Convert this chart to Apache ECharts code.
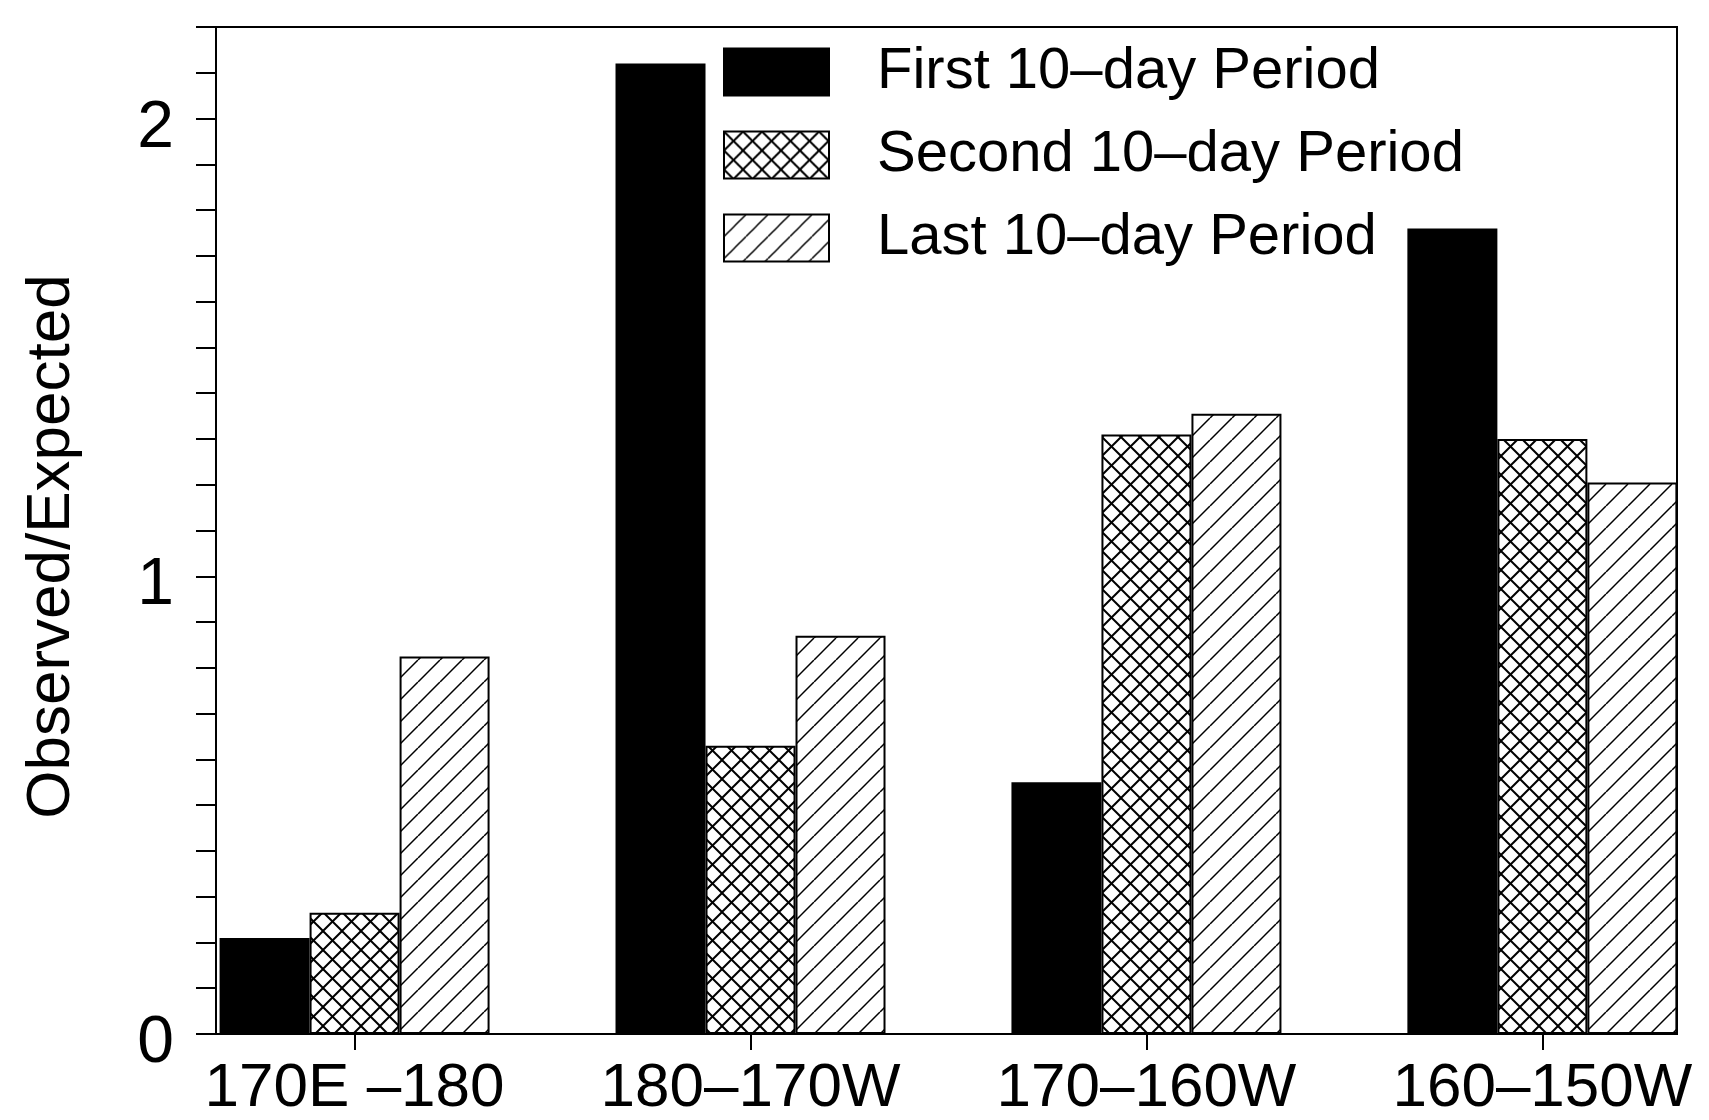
<!DOCTYPE html>
<html>
<head>
<meta charset="utf-8">
<script src="https://cdn.jsdelivr.net/npm/echarts@6/dist/echarts.min.js"></script>
<style>
  html, body { margin: 0; padding: 0; background: #fff; }
  #main { width: 1709px; height: 1120px; }
</style>
</head>
<body>
<div id="main"></div>
<script>
// data
var regions = ['170E \u2013180', '180\u2013170W', '170\u2013160W', '160\u2013150W'];
var periodNames = ['First 10\u2013day Period', 'Second 10\u2013day Period', 'Last 10\u2013day Period'];
var firstPeriod  = [0.21, 2.12, 0.55, 1.76];
var secondPeriod = [0.265, 0.63, 1.31, 1.30];
var lastPeriod   = [0.825, 0.87, 1.355, 1.205];
var yLabels = [0, 1, 2];
var xPositions = [0, 1, 2, 3];

function makePattern(size, cross, lw) {
  var c = document.createElement('canvas');
  c.width = size; c.height = size;
  var g = c.getContext('2d');
  g.fillStyle = '#fff';
  g.fillRect(0, 0, size, size);
  g.strokeStyle = '#000';
  g.lineWidth = lw;
  for (var k = -size; k <= size; k += size) {
    g.beginPath();
    g.moveTo(k, size); g.lineTo(k + size, 0);
    g.stroke();
    if (cross) {
      g.beginPath();
      g.moveTo(k, 0); g.lineTo(k + size, size);
      g.stroke();
    }
  }
  return { image: c, repeat: 'repeat' };
}

var font = '"Liberation Sans", Arial, Helvetica, sans-serif';
var styles = [
  { color: '#000', borderColor: '#000', borderWidth: 2 },
  { color: makePattern(19, true, 2), borderColor: '#000', borderWidth: 2 },
  { color: makePattern(22, false, 1.5), borderColor: '#000', borderWidth: 2 }
];
var values = [firstPeriod, secondPeriod, lastPeriod];

var myChart = echarts.init(document.getElementById('main'), null, { renderer: 'canvas' });
var option = {
  backgroundColor: '#fff',
  animation: false,
  textStyle: { fontFamily: font, color: '#000' },
  grid: {
    left: 216, right: 32, top: 27, bottom: 86,
    outerBoundsMode: 'none',
    show: true, borderColor: '#000', borderWidth: 2, backgroundColor: 'transparent'
  },
  legend: {
    orient: 'vertical',
    left: 718, top: 38,
    icon: 'rect',
    itemWidth: 105, itemHeight: 47, itemGap: 25,
    selectedMode: false,
    data: periodNames,
    textStyle: { fontSize: 58, color: '#000', fontFamily: font, padding: [0, 0, 0, 43] }
  },
  xAxis: {
    type: 'value',
    min: -0.35, max: 3.34,
    splitLine: { show: false },
    axisLine: { show: true, onZero: false, lineStyle: { color: '#000', width: 2 } },
    axisTick: { show: true, customValues: xPositions, length: 16, lineStyle: { color: '#000', width: 2 } },
    axisLabel: {
      customValues: xPositions,
      formatter: function (v) { return regions[Math.round(v)]; },
      fontSize: 62, color: '#000', margin: 24, fontFamily: font
    }
  },
  yAxis: {
    type: 'value',
    min: 0, max: 2.2, interval: 0.1,
    name: 'Observed/Expected',
    nameLocation: 'middle',
    nameGap: 133,
    nameMoveOverlap: false,
    nameTextStyle: { fontSize: 62, color: '#000', fontFamily: font, padding: [0, 32, 0, 0] },
    splitLine: { show: false },
    axisLine: { show: true, onZero: false, lineStyle: { color: '#000', width: 2 } },
    axisTick: { show: true, length: 20, lineStyle: { color: '#000', width: 2 } },
    axisLabel: {
      customValues: yLabels,
      formatter: function (v) { return '{n|' + v + '}'; },
      rich: { n: { fontSize: 66, color: '#000', fontFamily: font, padding: [20, 0, 0, 0] } },
      margin: 42
    }
  },
  series: periodNames.map(function (name, i) {
    return {
      name: name,
      type: 'bar',
      barWidth: 90,
      barGap: '0%',
      itemStyle: styles[i],
      data: values[i].map(function (v, j) { return [xPositions[j], v]; })
    };
  })
};
myChart.setOption(option);
</script>
</body>
</html>
